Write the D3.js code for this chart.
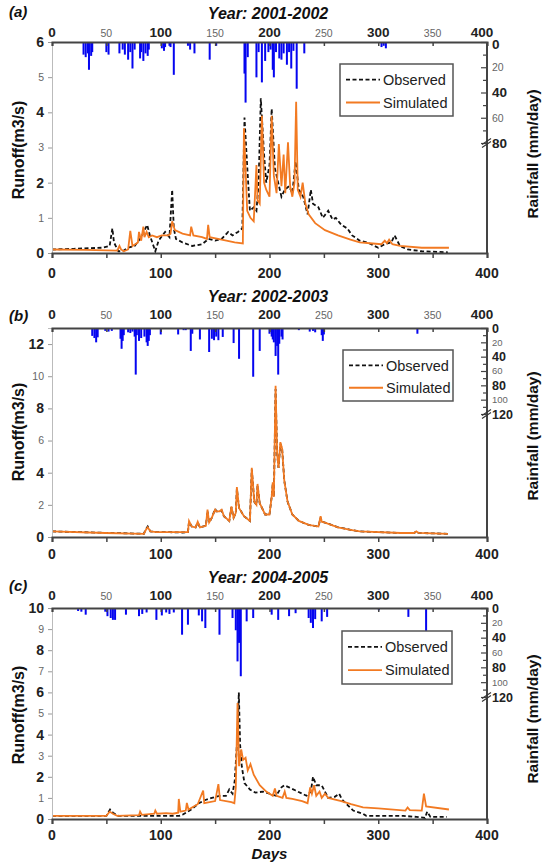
<!DOCTYPE html>
<html><head><meta charset="utf-8">
<script src="https://cdn.jsdelivr.net/npm/d3@7"></script>
<style>body{margin:0;background:#fff}text{font-family:"Liberation Sans",Arial,sans-serif}</style>
</head><body><svg id="c" width="545" height="864"></svg>
<script>
// ---------- DATA ----------
const dayTicks = [0,50,100,150,200,250,300,350,400];
const dayLabelsBottom = [0,100,200,300,400];

const titles = ["Year: 2001-2002","Year: 2002-2003","Year: 2004-2005"];
const tags = ["(a)","(b)","(c)"];
const legendLabels = ["Observed","Simulated"];

const runoffTicksA = [0,1,2,3,4,5,6];
const runoffTicksB = [0,2,4,6,8,10,12];
const runoffTicksC = [0,1,2,3,4,5,6,7,8,9,10];
const rainTicksA = [0,20,40,60,80];
const rainTicksBC = [0,20,40,60,80,100,120];

// Panel (a) 2001-2002  [day, value]
const rainA = [[29,10],[31,12],[33,9],[34,22],[36,11],[37,8],[50,8],[52,10],[62,9],
  [65,6],[67,10],[70,14],[72,8],[74,21],[76,6],[81,13],[82,8],[84,15],[86,9],[88,11],[89,6],
  [101,5],[103,7],[104,4],[108,3],[109,4],[112,26],[125,3],[127,6],[131,9],[145,14],[151,3],
  [177,25],[178,48],[180,12],[188,28],[190,8],[193,32],[196,15],[199,8],[201,6],[203,22],[204,28],[206,8],
  [209,13],[211,14],[213,9],[216,18],[218,8],[220,21],[222,7],[225,37],[232,9],[303,4],[305,3],[307,5]];
const obsA = [[0,0.1],[20,0.12],[46,0.15],[53,0.2],[55.5,0.7],[57,0.3],[61,0.05],[65,0.05],[70,0.15],
  [76,0.2],[82,0.45],[87.5,0.8],[90,0.5],[95,0.05],[98,0.35],[104,0.6],[108,0.45],[110.5,1.8],[112,0.7],
  [114,0.4],[120,0.3],[129,0.2],[138,0.25],[144,0.4],[150,0.35],[156,0.4],[162,0.6],[166,0.5],[171,0.6],
  [175,0.7],[177,3.85],[180,2.2],[182,1.2],[185.5,1.3],[188,1.2],[190,2.0],[192,4.4],[195,2.8],[197,2.0],
  [200,2.5],[202,4.1],[205,2.4],[208,2.0],[211,1.6],[214,1.8],[218,1.9],[221,1.7],[224,2.6],[227,1.8],
  [231,1.6],[235,1.1],[238,1.8],[240,1.4],[245,1.3],[249,1.0],[254,1.2],[258,0.95],[261,1.0],[266,0.8],
  [271.5,0.7],[276,0.5],[283,0.35],[290,0.3],[300,0.15],[306,0.25],[312,0.3],[315,0.5],[320,0.2],
  [327,0.1],[340,0.05],[364,0.02]];
const simA = [[0,0.1],[30,0.09],[60,0.07],[62,0.2],[63.5,0.1],[66,0.05],[70,0.1],[72,0.63],[74,0.2],
  [79,0.3],[80,0.6],[82,0.35],[84,0.75],[85,0.45],[87,0.6],[89,0.45],[92,0.5],[96.5,0.45],[101,0.5],
  [107,0.5],[109,0.55],[110.5,0.9],[113,0.65],[120,0.55],[127,0.5],[128,0.75],[130,0.5],[138,0.45],
  [142.5,0.4],[143.6,0.8],[145,0.45],[156,0.38],[168,0.3],[175.5,0.27],[176.5,3.55],[179.5,1.2],
  [182.5,1.0],[185.5,0.9],[188,2.5],[189,1.5],[191,1.4],[193,3.9],[195,2.0],[197,1.8],[200,1.6],
  [202,3.9],[204,2.2],[206.5,1.7],[208.6,3.1],[211,1.9],[213,2.8],[214.5,1.7],[217,3.15],[219,1.9],
  [221,1.6],[223,2.0],[224.5,4.3],[226,1.8],[228.5,1.6],[230.5,2.0],[233,1.4],[236,1.1],[242,0.85],
  [251,0.65],[263,0.5],[274.5,0.38],[283,0.3],[295,0.27],[303,0.25],[306,0.35],[308,0.28],[310,0.38],
  [313,0.25],[320,0.2],[340,0.15],[365,0.15]];

// Panel (b) 2002-2003
const rainB = [[37,11],[39,14],[40.6,20],[42,13],[49,4],[52,5],[55,4],[63,15],[64,29],[65,18],[66,10],
  [70,6],[72,7],[74,5],[76,12],[77,65],[78,10],[80,18],[82,14],[85,12],[87,20],[88,25],[89,18],[90,10],
  [100,9],[116,9],[121,3],[123,3],[127.6,32],[129,8],[136,16],[144.5,33.5],[147,15],[149,17],[151,12],
  [153,17],[157,12.5],[167,21],[172,43],[185,68],[191,32],[200,8],[202,12],[203,16],[204,20],[205.6,39],
  [207,25],[208,65],[209,22],[211,12],[212,16],[227,3],[237,5],[240,4],[242,6],[248,10],[249,18],[250,9],[336,8]];
const obsB = [[0,0.35],[49,0.26],[84.5,0.2],[86,0.45],[88,0.65],[90.5,0.35],[96,0.3],[108,0.3],[120,0.28],
  [125,0.3],[126,0.95],[128.5,0.65],[132,0.6],[134,0.9],[136,0.6],[141.5,0.7],[143,1.6],[144.5,0.9],
  [147,1.2],[150,1.75],[151,1.6],[154,1.6],[156,1.65],[158,1.3],[163,1.0],[165,1.85],[167,1.2],[169,1.5],
  [170,3.0],[172,1.8],[176.5,1.3],[182,1.0],[183.7,4.2],[186,2.2],[188,2.0],[189,3.2],[191,2.1],[196,1.4],
  [200,1.4],[202,2.5],[203,3.3],[204,2.5],[205.6,9.2],[207,5.2],[208.3,4.3],[210,5.8],[211.6,5.5],
  [213.6,3.5],[216.6,2.2],[221,1.4],[227,1.0],[236,0.75],[245,0.65],[247,1.2],[248,0.95],[251,0.9],
  [263,0.6],[274.5,0.45],[283,0.35],[321,0.25],[333,0.25],[335,0.35],[337,0.25],[364,0.2]];
const simB = [[0,0.35],[49,0.25],[84.5,0.2],[86,0.4],[88,0.6],[90.5,0.35],[96,0.3],[108,0.3],[120,0.3],
  [125,0.3],[126,1.0],[128.5,0.65],[132,0.6],[134,0.95],[136,0.6],[141.5,0.7],[143,1.7],[144.5,0.9],
  [147,1.2],[150,1.7],[151,1.6],[154,1.6],[156,1.7],[158,1.3],[163,1.0],[165,1.9],[167,1.2],[169,1.5],
  [170,3.1],[172,1.8],[176.5,1.3],[182,1.0],[183.7,4.3],[186,2.2],[188,2.0],[189,3.3],[191,2.1],[196,1.4],
  [200,1.4],[202,2.5],[203,3.4],[204,2.5],[205.6,9.4],[207,5.2],[208.3,4.3],[210,5.9],[211.6,5.5],
  [213.6,3.5],[216.6,2.2],[221,1.4],[227,1.0],[236,0.75],[245,0.65],[247,1.3],[248,0.95],[251,0.9],
  [263,0.6],[274.5,0.45],[283,0.35],[321,0.25],[333,0.25],[335,0.35],[337,0.25],[364,0.2]];

// Panel (c) 2004-2005
const rainC = [[24,4],[27,5],[31,9],[49,5],[51,11],[54,13.5],[56,16],[58,16],[68,9],[80,11],[83,8],[87,6],
  [96,16],[101,10],[105,6],[108,8],[112,6],[119.6,36],[125,22.5],[135,10],[138,18],[141,27],[154,36],
  [166,13.5],[169,30],[170.6,72],[172,47],[173.6,92],[179,18],[185,13.5],[202,9],[208,16],[218,11],[224,7],
  [236,13.5],[238,20],[240,27],[242,15],[248,18],[253,12],[300.5,3],[327.7,12],[344,58]];
const obsC = [[0,0.15],[50,0.15],[53.4,0.45],[56,0.3],[61,0.15],[117,0.15],[120,0.2],[128,0.45],
  [135,0.75],[141,0.9],[147,1.0],[154,1.1],[160,1.1],[163,1.4],[166,1.2],[168,1.8],[170.6,4.0],[171.8,6.0],
  [173,3.5],[174.5,2.5],[177,1.7],[182,1.4],[187,1.25],[194,1.3],[200,1.2],[206,1.1],[211,1.5],[213.6,1.6],
  [218,1.5],[224,1.35],[230,1.2],[234,1.1],[238,1.3],[240,2.0],[243,1.6],[248,1.6],[251,1.3],[254,1.0],
  [260,1.05],[264,1.2],[267,0.9],[273,0.6],[277,0.4],[286,0.25],[289,0.15],[323,0.15],[335,0.1],
  [343,0.05],[345,0.35],[348,0.1],[363,0.1]];
const simC = [[0,0.15],[50,0.15],[53,0.35],[56,0.25],[60,0.15],[80,0.18],[81,0.35],[82.5,0.2],[94,0.25],
  [95,0.4],[96.5,0.25],[105,0.28],[111,0.25],[116,0.3],[116.6,0.95],[118,0.35],[123,0.4],[124,0.76],
  [125.5,0.45],[134,0.7],[139,1.35],[140,0.75],[150,0.85],[153,1.65],[154.5,0.9],[165,0.8],[167.7,0.75],
  [169,1.5],[170.6,5.5],[172,2.5],[174,3.3],[175.7,2.8],[178,2.9],[180,2.3],[182.5,2.6],[185.5,2.1],
  [191,1.6],[197,1.3],[203,1.1],[205,1.45],[206.5,1.1],[212,1.0],[214,1.3],[215.5,1.0],[221,0.95],
  [230,0.85],[235,0.75],[237.4,1.5],[239,1.2],[241,1.6],[243,1.1],[246,1.3],[248,1.0],[251,1.2],
  [254,1.0],[266,0.85],[275,0.7],[286,0.55],[300,0.5],[325,0.4],[327,0.55],[329,0.42],[340,0.4],
  [342,1.2],[344,0.6],[365,0.45]];

// ---------- DRAW ----------
const svg = d3.select("#c");
const X0 = 52, X1 = 487;
const x = d3.scaleLinear().domain([0,400]).range([X0,X1]);
const BLUE = "#0505f0", ORANGE = "#f27a22", AX = "#444";

const panels = [
  {title:titles[0], tag:tags[0], yTop:42, yBot:253, yMax:6, yTicks:runoffTicksA, isMajor:v=>v%2===0,
   rainMax:80, yBreak:143, rTicks:rainTicksA, rain:rainA, obs:obsA, sim:simA, rFont:[13.5,10.5],
   titleY:19, tagY:17, topLabY:37, botLabY:278, leg:[340,64,113,52], yLab:150},
  {title:titles[1], tag:tags[1], yTop:328, yBot:537, yMax:13, yTicks:runoffTicksB, isMajor:v=>v%4===0,
   rainMax:120, yBreak:414, rTicks:rainTicksBC, rain:rainB, obs:obsB, sim:simB, rFont:[12.5,9.5],
   titleY:302, tagY:321, topLabY:319, botLabY:559, leg:[343,350,110,51], yLab:432},
  {title:titles[2], tag:tags[2], yTop:608, yBot:819, yMax:10, yTicks:runoffTicksC, isMajor:v=>v%2===0,
   rainMax:120, yBreak:697, rTicks:rainTicksBC, rain:rainC, obs:obsC, sim:simC, rFont:[12.5,9.5],
   titleY:583, tagY:591, topLabY:600, botLabY:840, leg:[342,631,110,53], yLab:715}
];

panels.forEach((p,i)=>{
  const g = svg.append("g");
  const y = d3.scaleLinear().domain([0,p.yMax]).range([p.yBot,p.yTop]);
  const r = d3.scaleLinear().domain([0,p.rainMax]).range([p.yTop,p.yBreak]);

  // rain bars
  g.append("g").selectAll("rect").data(p.rain).join("rect")
    .attr("x",d=>x(d[0])-1).attr("width",2)
    .attr("y",p.yTop).attr("height",d=>r(d[1])-p.yTop).attr("fill",BLUE);

  const line = d3.line().x(d=>x(d[0])).y(d=>y(d[1]));
  g.append("path").datum(p.obs).attr("d",line).attr("fill","none")
    .attr("stroke","#111").attr("stroke-width",1.8).attr("stroke-dasharray","4,2.5");
  g.append("path").datum(p.sim).attr("d",line).attr("fill","none")
    .attr("stroke",ORANGE).attr("stroke-width",1.8);

  // left axis
  const la = g.append("g").attr("transform",`translate(${X0},0)`)
    .call(d3.axisLeft(y).tickValues(p.yTicks).tickSize(4).tickPadding(4).tickFormat(d3.format("d")));
  la.select(".domain").attr("stroke","#bbb").attr("stroke-width",1);
  la.selectAll(".tick line").attr("stroke","#999");
  la.selectAll(".tick text").each(function(d){
    const m = p.isMajor(d);
    d3.select(this).attr("font-size",m?14:10.5).attr("font-weight",m?"bold":"normal")
      .attr("fill",m?"#222":"#666");
  });

  // bottom axis
  const ba = g.append("g").attr("transform",`translate(0,${p.yBot})`)
    .call(d3.axisBottom(x).tickValues(dayTicks).tickSize(5).tickFormat(""));
  ba.select(".domain").attr("stroke",AX).attr("stroke-width",2);
  ba.selectAll(".tick line").attr("stroke",AX).attr("stroke-width",1.5);
  g.append("g").selectAll("text").data(dayLabelsBottom).join("text")
    .attr("x",d=>x(d)).attr("y",p.botLabY).attr("text-anchor","middle")
    .attr("font-size",14).attr("font-weight","bold").attr("fill","#222").text(d=>d);

  // top axis
  const ta = g.append("g").attr("transform",`translate(0,${p.yTop})`)
    .call(d3.axisTop(x).tickValues(dayTicks).tickSize(-4).tickFormat(""));
  ta.select(".domain").attr("stroke",AX).attr("stroke-width",2);
  ta.selectAll(".tick line").attr("stroke",AX).attr("stroke-width",1.5);
  g.append("g").selectAll("text").data(dayTicks).join("text")
    .attr("x",d=>x(d)-(d===400?5:0)).attr("y",p.topLabY).attr("text-anchor","middle")
    .attr("font-size",d=>d%100===0?13.5:10.5).attr("font-weight",d=>d%100===0?"bold":"normal")
    .attr("fill",d=>d%100===0?"#222":"#666").text(d=>d);

  // right axis (rain)
  const rMinor = d3.range(0,p.rainMax+1,10);
  const ra = g.append("g").attr("transform",`translate(${X1},0)`)
    .call(d3.axisRight(r).tickValues(rMinor).tickSize(0).tickFormat(""));
  ra.select(".domain").remove();
  ra.selectAll(".tick line").attr("x1",d=>d%20===0?-6:-4).attr("x2",0).attr("stroke",AX).attr("stroke-width",1.2);
  g.append("line").attr("x1",X1).attr("x2",X1).attr("y1",p.yTop).attr("y2",p.yBot)
    .attr("stroke",AX).attr("stroke-width",2);
  g.append("g").selectAll("text").data(p.rTicks).join("text")
    .attr("x",X1+5).attr("y",d=>r(d)+(d===0&&i===0?2:0)).attr("dy","0.36em")
    .attr("font-size",d=>d%40===0?p.rFont[0]:p.rFont[1]).attr("font-weight",d=>d%40===0?"bold":"normal")
    .attr("fill",d=>d%40===0?"#222":"#666").text(d=>d);
  // break marks
  [-1.5,1.5].forEach(o=>{
    g.append("line").attr("x1",X1-5).attr("x2",X1+4).attr("y1",p.yBreak+o+3).attr("y2",p.yBreak+o-3)
      .attr("stroke","#333").attr("stroke-width",1.2);
  });

  // titles
  g.append("text").attr("x",268).attr("y",p.titleY).attr("text-anchor","middle")
    .attr("font-size",16).attr("font-weight","bold").attr("font-style","italic").attr("fill","#111").text(p.title);
  g.append("text").attr("x",9).attr("y",p.tagY)
    .attr("font-size",15).attr("font-weight","bold").attr("font-style","italic").attr("fill","#111").text(p.tag);

  // axis titles
  g.append("text").attr("transform",`translate(24,${p.yLab}) rotate(-90)`).attr("text-anchor","middle")
    .attr("font-size",16).attr("font-weight","bold").attr("fill","#111").text("Runoff(m3/s)");
  g.append("text").attr("transform",`translate(538,${p.yLab+4}) rotate(-90)`).attr("text-anchor","middle")
    .attr("font-size",15.5).attr("font-weight","bold").attr("fill","#111").text("Rainfall (mm/day)");

  // legend
  const [lx,ly,lw,lh] = p.leg;
  const lg = g.append("g");
  lg.append("rect").attr("x",lx).attr("y",ly).attr("width",lw).attr("height",lh)
    .attr("fill","#fff").attr("stroke","#555").attr("stroke-width",1.5);
  const rows = [[legendLabels[0],"#111","4,2.5"],[legendLabels[1],ORANGE,null]];
  rows.forEach((rw,k)=>{
    const cy = ly + lh*(k===0?0.3:0.74);
    lg.append("line").attr("x1",lx+6).attr("x2",lx+40).attr("y1",cy).attr("y2",cy)
      .attr("stroke",rw[1]).attr("stroke-width",1.8).attr("stroke-dasharray",rw[2]);
    lg.append("text").attr("x",lx+43).attr("y",cy).attr("dy","0.36em")
      .attr("font-size",14.5).attr("fill","#222").text(rw[0]);
  });
});

svg.append("text").attr("x",x(200)).attr("y",859).attr("text-anchor","middle")
  .attr("font-size",15).attr("font-weight","bold").attr("font-style","italic").attr("fill","#111").text("Days");
</script>
</body></html>
